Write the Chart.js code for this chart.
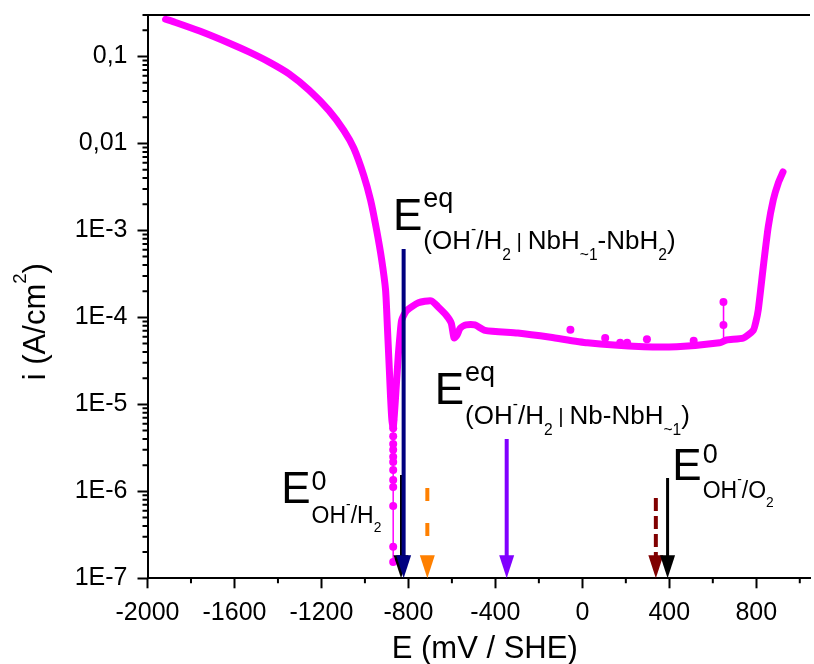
<!DOCTYPE html>
<html>
<head>
<meta charset="utf-8">
<title>Polarisation curve</title>
<script src="https://cdn.jsdelivr.net/npm/chart.js@4.4.1/dist/chart.umd.min.js"></script>
<style>
  html, body { margin: 0; padding: 0; background: #ffffff; }
  #chart_div { width: 814px; height: 664px; }
</style>
</head>
<body>
<div id="chart_div"><canvas id="first_canvas" width="814" height="664"></canvas></div>
<script>
// E in mV / SHE, i in A/cm2

// main polarisation curve (thick magenta line)
const curve_E = [-1917, -1874, -1760, -1623, -1531, -1440, -1349, -1257, -1166, -1097, -1051, -1006, -974, -946, -923, -905,
  -896, -888, -882, -876, -870, -864, -857, -846, -838, -831, -808, -754, -695, -663, -626, -603, -590, -576, -562, -535,
  -494, -448, -297, -146, 23, 283, 434, 631, 663, 741, 786, 798, 809, 832, 855, 878, 901, 923];
const curve_i = [0.268, 0.248, 0.196, 0.142, 0.112, 0.086, 0.063, 0.041, 0.024, 0.0141, 0.0088, 0.00432, 0.00223, 0.00100, 4.6e-4, 2.06e-4,
  7.1e-5, 2.6e-5, 1.2e-5, 6.6e-6, 5.4e-6, 8.0e-6, 1.46e-5, 3.85e-5, 6.5e-5, 9.3e-5, 1.2e-4, 1.47e-4, 1.55e-4, 1.32e-4, 1.06e-4, 8.6e-5, 5.8e-5, 6.3e-5, 7.5e-5, 8.2e-5,
  8.2e-5, 7.1e-5, 6.6e-5, 5.9e-5, 5.1e-5, 4.6e-5, 4.6e-5, 5.1e-5, 5.5e-5, 5.8e-5, 7.1e-5, 8.9e-5, 1.22e-4, 3.8e-4, 1.1e-3, 2.24e-3, 3.5e-3, 4.7e-3];

// points around the zero current crossing (thin line with symbols)
const zero_E = [-870, -870, -870, -870, -870, -870, -870, -870, -870, -870, -870, -870, -870];
const zero_i = [6.6e-6, 5.3e-6, 4.3e-6, 3.5e-6, 3.0e-6, 2.5e-6, 2.17e-6, 1.76e-6, 1.35e-6, 1.12e-6, 6.8e-7, 2.3e-7, 1.54e-7];

// single noisy points above the passive plateau
const noise_E = [-55, 105, 174, 206, 297, 512];
const noise_i = [7.2e-5, 5.8e-5, 5.1e-5, 5.1e-5, 5.6e-5, 5.4e-5];

// the spike near 650 mV
const spike_E = [649, 649, 650];
const spike_i = [1.5e-4, 8.2e-5, 5.5e-5];

// potential arrows, from the top value down to the axis
const arrow_E   = [-834, -822, -713, -348, 338, 392];
const arrow_top = [1.54e-6, 6.1e-4, 1.09e-6, 3.99e-6, 8.4e-7, 1.42e-6];
const arrow_colors = ['#000000', '#000080', '#ff8000', '#8000ff', '#800000', '#000000'];
const arrow_widths = [2, 4, 4, 4, 4, 3];
const arrow_dashes = [[], [], [13, 22], [], [13, 5], []];

// axes
const x_min = -2000, x_max = 1047;
const x_ticks = [-2000, -1600, -1200, -800, -400, 0, 400, 800];
const y_min = 1e-7, y_max = 0.3;
const y_ticks = [1e-7, 1e-6, 1e-5, 1e-4, 1e-3, 0.01, 0.1];
const y_tick_labels = ['1E-7', '1E-6', '1E-5', '1E-4', '1E-3', '0,01', '0,1'];

// labels for the arrows, anchored at (E, i) of the big "E"
const labels = [
  { at: [-871, 1.0e-3], big: 44, sup: 'eq', sup_size: 27, sup_dy: -23, sub_size: 26, sub_dy: 19,
    sub: [['(OH'], ['-', 'u'], ['/H'], ['2', 'd'], [' | ', 'b'], ['NbH'], ['~1', 'd'], ['-NbH'], ['2', 'd'], [')']] },
  { at: [-679, 1.0e-5], big: 44, sup: 'eq', sup_size: 27, sup_dy: -23, sub_size: 26, sub_dy: 20,
    sub: [['(OH'], ['-', 'u'], ['/H'], ['2', 'd'], [' | ', 'b'], ['Nb-NbH'], ['~1', 'd'], [')']] },
  { at: [-1385, 7.3e-7], big: 44, sup: '0', sup_size: 27, sup_dy: -13, sub_size: 23, sub_dy: 20,
    sub: [['OH'], ['-', 'u'], ['/H'], ['2', 'd']] },
  { at: [414, 1.35e-6], big: 44, sup: '0', sup_size: 27, sup_dy: -17, sub_size: 23, sub_dy: 18,
    sub: [['OH'], ['-', 'u'], ['/O'], ['2', 'd']] }
];

const FONT = '"Liberation Sans", Arial, sans-serif';
const MAGENTA = '#ff00ff';

function pts(xs, ys){
  return xs.map((x, k) => ({ x: x, y: ys[k] }));
}

function run_style(run, size){
  if(run[1] === 'u') return [size * 0.6, -size * 0.6];
  if(run[1] === 'd') return [size * 0.6, size * 0.4];
  if(run[1] === 'b') return [size * 0.8, -size * 0.05];
  return [size, 0];
}

function draw_runs(ctx, x, y, runs, size){
  for(const run of runs){
    const [s, dy] = run_style(run, size);
    ctx.font = s + 'px ' + FONT;
    ctx.fillText(run[0], x, y + dy);
    x += ctx.measureText(run[0]).width;
  }
  return x;
}

function runs_width(ctx, runs, size){
  let w = 0;
  for(const run of runs){
    ctx.font = run_style(run, size)[0] + 'px ' + FONT;
    w += ctx.measureText(run[0]).width;
  }
  return w;
}

const overlay = {
  id: 'overlay',
  afterDatasetsDraw(chart){
    const ctx = chart.ctx;
    // arrow heads on the last point of each arrow dataset
    chart.data.datasets.forEach((ds, k) => {
      if(!ds.arrowHead) return;
      const meta = chart.getDatasetMeta(k);
      const tip = meta.data[meta.data.length - 1];
      ctx.save();
      ctx.fillStyle = ds.borderColor;
      ctx.beginPath();
      ctx.moveTo(tip.x, tip.y);
      ctx.lineTo(tip.x - 7.5, tip.y - 23);
      ctx.lineTo(tip.x + 7.5, tip.y - 23);
      ctx.closePath();
      ctx.fill();
      ctx.restore();
    });
  },
  afterDraw(chart){
    const ctx = chart.ctx;
    const xs = chart.scales.x, ys = chart.scales.y;
    const a = chart.chartArea;
    ctx.save();
    ctx.strokeStyle = '#000';
    ctx.lineWidth = 2;
    ctx.beginPath();
    //top frame line
    ctx.moveTo(a.left - 1, a.top);
    ctx.lineTo(a.right, a.top);
    //minor ticks x
    for(let v = x_min + 200; v <= x_max; v += 400){
      const px = xs.getPixelForValue(v);
      ctx.moveTo(px, a.bottom);
      ctx.lineTo(px, a.bottom + 5);
    }
    //minor ticks y
    for(const d of y_ticks){
      for(let m = 2; m <= 9; m++){
        const v = m * d;
        if(v > y_max * 1.0001) break;
        const py = ys.getPixelForValue(v);
        ctx.moveTo(a.left, py);
        ctx.lineTo(a.left - 5, py);
      }
    }
    ctx.stroke();

    ctx.fillStyle = '#000';
    ctx.textBaseline = 'alphabetic';
    ctx.textAlign = 'left';

    //x title
    ctx.font = '31px ' + FONT;
    ctx.textAlign = 'center';
    ctx.fillText('E (mV / SHE)', (a.left + a.right) / 2 + 6, chart.height - 6);
    ctx.textAlign = 'left';

    //y title, rotated
    const y_title = [['i (A/cm'], ['2', 'u'], [')']];
    ctx.save();
    ctx.translate(45, (a.top + a.bottom) / 2 + 25);
    ctx.rotate(-Math.PI / 2);
    const w = runs_width(ctx, y_title, 31);
    draw_runs(ctx, -w / 2, 0, y_title, 31);
    ctx.restore();

    //arrow labels
    for(const lab of labels){
      let x = xs.getPixelForValue(lab.at[0]);
      const y = ys.getPixelForValue(lab.at[1]);
      ctx.font = lab.big + 'px ' + FONT;
      ctx.fillText('E', x, y);
      x += ctx.measureText('E').width + 1;
      ctx.font = lab.sup_size + 'px ' + FONT;
      ctx.fillText(lab.sup, x, y + lab.sup_dy);
      draw_runs(ctx, x, y + lab.sub_dy, lab.sub, lab.sub_size);
    }
    ctx.restore();
  }
};

function draw_chart(){
  Chart.defaults.font.family = FONT;
  Chart.defaults.color = '#000';

  let datasets = [];

  arrow_E.forEach((e, k) => {
    datasets.push({
      data: [{ x: e, y: arrow_top[k] }, { x: e, y: y_min }],
      showLine: true,
      borderColor: arrow_colors[k],
      borderWidth: arrow_widths[k],
      borderDash: arrow_dashes[k],
      borderCapStyle: 'butt',
      pointRadius: 0,
      order: 100 - k,
      arrowHead: true,
      clip: { left: 0, top: 0, right: 0, bottom: -20 }
    });
  });

  datasets.push({
    data: pts(curve_E, curve_i),
    showLine: true,
    borderColor: MAGENTA,
    borderWidth: 7,
    borderJoinStyle: 'round',
    borderCapStyle: 'round',
    tension: 0.2,
    pointRadius: 0,
    order: 200
  });

  datasets.push({
    data: pts(zero_E, zero_i),
    showLine: true,
    borderColor: MAGENTA,
    borderWidth: 1.5,
    pointRadius: 4,
    pointBorderWidth: 0,
    pointBackgroundColor: MAGENTA,
    order: 201
  });

  datasets.push({
    data: pts(noise_E, noise_i),
    showLine: false,
    pointRadius: 4,
    pointBorderWidth: 0,
    pointBackgroundColor: MAGENTA,
    order: 202
  });

  datasets.push({
    data: pts(spike_E, spike_i),
    showLine: true,
    borderColor: MAGENTA,
    borderWidth: 1.5,
    pointRadius: [4, 4, 0],
    pointBorderWidth: 0,
    pointBackgroundColor: MAGENTA,
    order: 203
  });

  const ctx_1 = document.getElementById('first_canvas');

  const chart_1 = new Chart(ctx_1, {
    type: 'scatter',
    data: { datasets: datasets },
    options: {
      responsive: false,
      animation: false,
      events: [],
      layout: { padding: { top: 15, left: 0, right: 0, bottom: 0 } },
      plugins: { legend: { display: false }, tooltip: { enabled: false } },
      scales: {
        x: {
          type: 'linear',
          min: x_min,
          max: x_max,
          afterBuildTicks: s => { s.ticks = x_ticks.map(v => ({ value: v })); },
          afterFit: s => { s.height = 85.7; s.paddingLeft = 0; s.paddingRight = 0; },
          grid: { drawOnChartArea: false, tickLength: 10, tickWidth: 2, tickColor: '#000' },
          border: { display: true, color: '#000', width: 2 },
          ticks: { color: '#000', font: { size: 25 }, padding: 10, maxRotation: 0, autoSkip: false, callback: v => String(v) }
        },
        y: {
          type: 'logarithmic',
          min: y_min,
          max: y_max,
          afterBuildTicks: s => { s.ticks = y_ticks.map(v => ({ value: v })); },
          afterFit: s => { s.width = 147.5; s.paddingTop = 0; s.paddingBottom = 0; },
          grid: { drawOnChartArea: false, tickLength: 10, tickWidth: 2, tickColor: '#000' },
          border: { display: true, color: '#000', width: 2 },
          ticks: { color: '#000', font: { size: 25 }, padding: 10, autoSkip: false, callback: (v, k) => y_tick_labels[k] }
        }
      }
    },
    plugins: [overlay]
  });
}

draw_chart();
</script>
</body>
</html>
